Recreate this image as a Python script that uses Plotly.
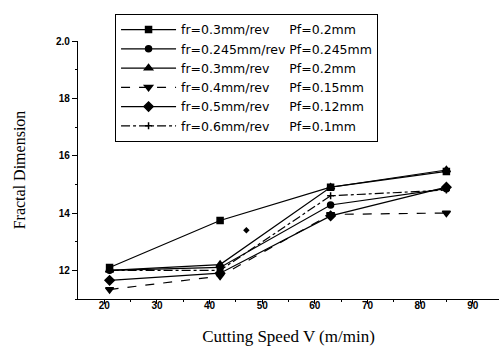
import plotly.graph_objects as go

speed = [21, 42, 63, 85]
names = [
    "fr=0.3mm/rev\u00a0\u00a0\u00a0\u00a0\u00a0Pf=0.2mm",
    "fr=0.245mm/rev Pf=0.245mm",
    "fr=0.3mm/rev\u00a0\u00a0\u00a0\u00a0\u00a0Pf=0.2mm",
    "fr=0.4mm/rev\u00a0\u00a0\u00a0\u00a0\u00a0Pf=0.15mm",
    "fr=0.5mm/rev\u00a0\u00a0\u00a0\u00a0\u00a0Pf=0.12mm",
    "fr=0.6mm/rev\u00a0\u00a0\u00a0\u00a0\u00a0Pf=0.1mm",
]
s1 = [1.21, 1.374, 1.49, 1.545]
s2 = [1.20, 1.21, 1.428, 1.485]
s3 = [1.20, 1.22, 1.49, 1.55]
s4 = [1.133, 1.18, 1.395, 1.40]
s5 = [1.165, 1.19, 1.39, 1.49]
s6 = [1.20, 1.20, 1.46, 1.48]
stray_x = [47]
stray_y = [1.34]

series = [s1, s2, s3, s4, s5, s6]
symbols = ["square", "circle", "triangle-up", "triangle-down", "diamond", "cross-thin"]
dashes = ["solid", "solid", "solid", "dash", "solid", "dashdot"]
sizes = [6, 6, 7, 7, 7, 5]

fig = go.Figure()
for ys, nm, sym, dsh, sz in zip(series, names, symbols, dashes, sizes):
    fig.add_trace(go.Scatter(
        x=speed, y=ys, name=nm, mode="lines+markers",
        line=dict(color="black", width=1.2, dash=dsh),
        marker=dict(symbol=sym, size=sz, color="black",
                    line=dict(color="black", width=1.5)),
    ))
fig.add_trace(go.Scatter(
    x=stray_x, y=stray_y, mode="markers", showlegend=False,
    marker=dict(symbol="diamond", size=5, color="black"),
))

tickfont = dict(family="Liberation Sans", size=10, color="black", weight="bold")
fig.update_layout(
    width=499, height=349,
    margin=dict(l=78, r=0, t=41, b=50),
    paper_bgcolor="white", plot_bgcolor="white",
    font=dict(family="Liberation Sans", color="black"),
    xaxis=dict(
        range=[15, 95], tickvals=[20, 30, 40, 50, 60, 70, 80, 90],
        ticks="outside", ticklen=4, tickwidth=1, tickcolor="black",
        minor=dict(tickvals=[25, 35, 45, 55, 65, 75, 85, 95], ticks="outside",
                   ticklen=2, tickcolor="black"),
        showline=True, linecolor="black", linewidth=1.2, showgrid=False,
        zeroline=False, tickfont=tickfont, ticklabelstandoff=-7,
        title=dict(text="Cutting Speed V (m/min)",
                   font=dict(family="Liberation Serif", size=17, color="black"),
                   standoff=20),
    ),
    yaxis=dict(
        range=[1.1, 2.0], tickvals=[1.2, 1.4, 1.6, 1.8, 2.0],
        ticktext=["12", "14", "16", "18", "2.0"],
        ticks="outside", ticklen=5, tickwidth=1, tickcolor="black",
        minor=dict(tickvals=[1.1, 1.3, 1.5, 1.7, 1.9], ticks="outside",
                   ticklen=2, tickcolor="black"),
        showline=True, linecolor="black", linewidth=1.2, showgrid=False,
        zeroline=False, tickfont=tickfont,
        title=dict(text="Fractal Dimension",
                   font=dict(family="Liberation Serif", size=16, color="black"),
                   standoff=26),
    ),
    legend=dict(
        x=0.088, y=1.105, xanchor="left", yanchor="top",
        bgcolor="white", bordercolor="black", borderwidth=1,
        font=dict(family="DejaVu Sans", size=12.5, color="black"),
        tracegroupgap=0, itemwidth=55,
    ),
)

fig.write_html("out.html")
